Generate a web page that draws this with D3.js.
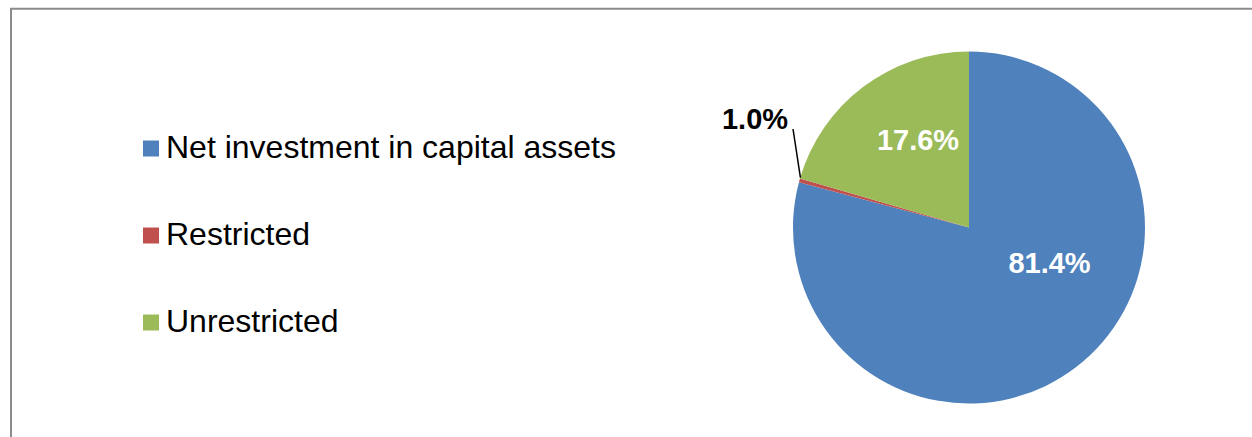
<!DOCTYPE html>
<html>
<head>
<meta charset="utf-8">
<script src="https://cdn.jsdelivr.net/npm/d3@7"></script>
<style>
  html, body { margin: 0; padding: 0; background: #fff; }
  svg { display: block; font-family: "Liberation Sans", Arial, sans-serif; }
</style>
</head>
<body>
<div id="chart"></div>
<script>
// categories / values
const categories = ["Net investment in capital assets", "Restricted", "Unrestricted"];
// slice sizes as drawn in the picture (percent of circle)
const sliceValues = [79.15, 0.35, 20.5];
// data label text as printed on the chart
const labelTexts = ["81.4%", "1.0%", "17.6%"];
const colors = ["#4F81BD", "#C0504D", "#9BBB59"];

const width = 1252, height = 437;
const cx = 969, cy = 227.5, radius = 176;

// label placement relative to pie centre (layout only)
const labelOffsets = [[80.5, 45.5], [-214, -98.5], [-51, -77.5]];
const labelFill = ["#fff", "#000", "#fff"];

const svg = d3.select("#chart").append("svg")
  .attr("width", width)
  .attr("height", height);

// chart frame (only left & top edges show in the crop)
svg.append("rect")
  .attr("x", 11).attr("y", 8.75)
  .attr("width", 1400).attr("height", 600)
  .attr("fill", "none")
  .attr("stroke", "#8c8c8c")
  .attr("stroke-width", 2);

// legend
const legend = svg.append("g").attr("class", "legend");
const legendY = d3.scalePoint().domain(categories).range([158, 332]);
const items = legend.selectAll("g").data(categories).enter().append("g")
  .attr("transform", d => `translate(0,${legendY(d)})`);
items.append("rect")
  .attr("x", 143).attr("y", -17.5)
  .attr("width", 16).attr("height", 16)
  .attr("fill", (d, i) => colors[i]);
items.append("text")
  .attr("x", 166).attr("y", 0)
  .attr("font-size", "32px")
  .attr("fill", "#000")
  .text(d => d);

// pie
const pie = d3.pie().sort(null).value(d => d);
const arc = d3.arc().innerRadius(0).outerRadius(radius);
const arcs = pie(sliceValues);

const g = svg.append("g").attr("transform", `translate(${cx},${cy})`);
g.selectAll("path").data(arcs).enter().append("path")
  .attr("d", arc)
  .attr("fill", (d, i) => colors[i]);

// leader line for the small slice
const small = arcs[1];
const mid = (small.startAngle + small.endAngle) / 2;
g.append("line")
  .attr("x1", -176).attr("y1", -98.5)
  .attr("x2", Math.sin(mid) * (radius - 1))
  .attr("y2", -Math.cos(mid) * (radius - 1) - 3)
  .attr("stroke", "#000")
  .attr("stroke-width", 1.5);

// data labels
g.selectAll("text.lbl").data(arcs).enter().append("text")
  .attr("class", "lbl")
  .attr("x", (d, i) => labelOffsets[i][0])
  .attr("y", (d, i) => labelOffsets[i][1])
  .attr("text-anchor", "middle")
  .attr("font-size", "29px")
  .attr("font-weight", "bold")
  .attr("fill", (d, i) => labelFill[i])
  .text((d, i) => labelTexts[i]);
</script>
</body>
</html>
